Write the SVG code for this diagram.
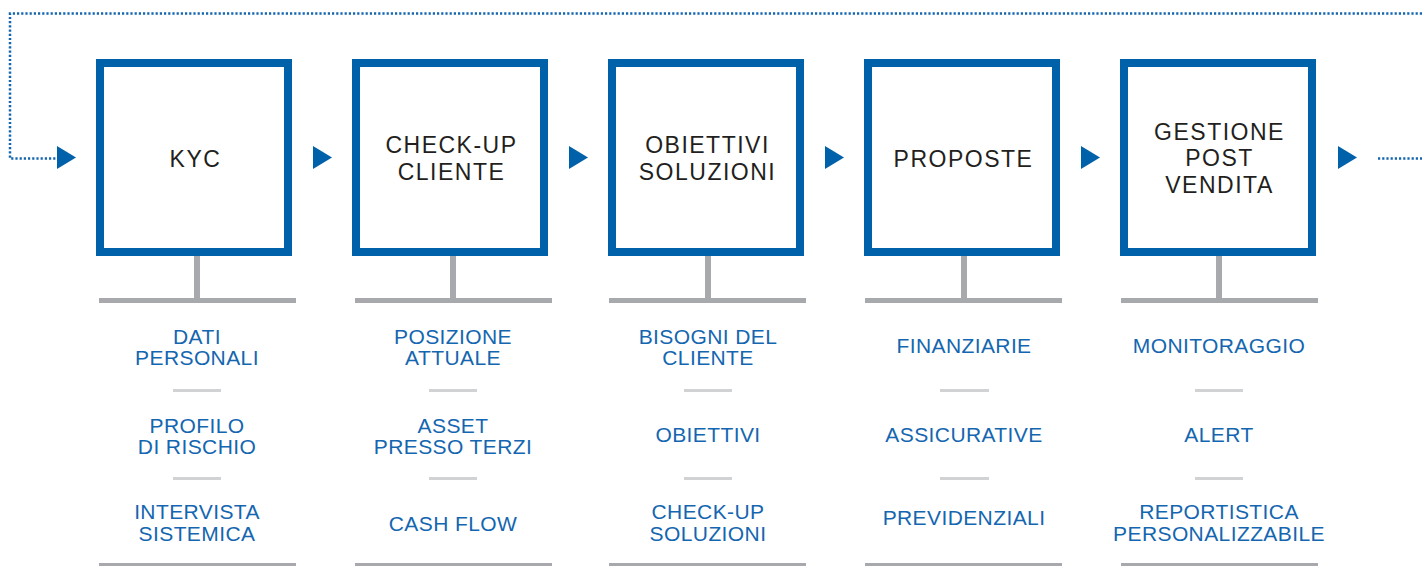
<svg xmlns="http://www.w3.org/2000/svg" width="1422" height="566" viewBox="0 0 1422 566">
<style>
.box{fill:#fff;stroke:#0061ab;stroke-width:8}
.stand{fill:#a7a9ac}
.sep{fill:#d1d2d4}
.title{font-family:"Liberation Sans",Arial,sans-serif;font-size:23px;fill:#231f20;text-anchor:middle;letter-spacing:1.5px}
.item{font-family:"Liberation Sans",Arial,sans-serif;font-size:21px;fill:#1466b0;text-anchor:middle;letter-spacing:0.4px}
.dot{fill:none;stroke:#1466b0;stroke-width:2.5;stroke-dasharray:2.2 2}
.arr{fill:#0061ab}
</style>
<g id="connectors">
<path class="dot" d="M1422,13.5 H10 V158.5 H56"/>
<path class="dot" d="M1378,158.5 H1422"/>
<path class="arr" d="M57,146 L76,157.5 L57,169 Z"/>
<path class="arr" d="M313,146 L332,157.5 L313,169 Z"/>
<path class="arr" d="M569,146 L588,157.5 L569,169 Z"/>
<path class="arr" d="M825,146 L844,157.5 L825,169 Z"/>
<path class="arr" d="M1081,146 L1100,157.5 L1081,169 Z"/>
<path class="arr" d="M1338,146 L1357,157.5 L1338,169 Z"/>
</g>
<g id="node-kyc">
<rect class="box" x="100" y="63" width="188" height="189"/>
<rect class="stand" x="194" y="256" width="6" height="43"/>
<rect class="stand" x="99" y="298" width="197" height="5"/>
<text class="title" x="195.5" y="166.5">KYC</text>
<text class="item" x="197" y="344">DATI</text>
<text class="item" x="197" y="365">PERSONALI</text>
<rect class="sep" x="173" y="389" width="48" height="3"/>
<text class="item" x="197" y="433">PROFILO</text>
<text class="item" x="197" y="454">DI RISCHIO</text>
<rect class="sep" x="173" y="477" width="48" height="3"/>
<text class="item" x="197" y="519">INTERVISTA</text>
<text class="item" x="197" y="541">SISTEMICA</text>
<rect class="stand" x="99" y="563" width="197" height="4"/>
</g>
<g id="node-checkup">
<rect class="box" x="356" y="63" width="188" height="189"/>
<rect class="stand" x="450" y="256" width="6" height="43"/>
<rect class="stand" x="355" y="298" width="197" height="5"/>
<text class="title" x="451.5" y="153">CHECK-UP</text>
<text class="title" x="451.5" y="179.5">CLIENTE</text>
<text class="item" x="453" y="344">POSIZIONE</text>
<text class="item" x="453" y="365">ATTUALE</text>
<rect class="sep" x="429" y="389" width="48" height="3"/>
<text class="item" x="453" y="433">ASSET</text>
<text class="item" x="453" y="454">PRESSO TERZI</text>
<rect class="sep" x="429" y="477" width="48" height="3"/>
<text class="item" x="453" y="530.5">CASH FLOW</text>
<rect class="stand" x="355" y="563" width="197" height="4"/>
</g>
<g id="node-obiettivi">
<rect class="box" x="612" y="63" width="188" height="189"/>
<rect class="stand" x="705" y="256" width="6" height="43"/>
<rect class="stand" x="609" y="298" width="197" height="5"/>
<text class="title" x="707.5" y="153">OBIETTIVI</text>
<text class="title" x="707.5" y="179.5">SOLUZIONI</text>
<text class="item" x="708" y="344">BISOGNI DEL</text>
<text class="item" x="708" y="365">CLIENTE</text>
<rect class="sep" x="684" y="389" width="48" height="3"/>
<text class="item" x="708" y="441.5">OBIETTIVI</text>
<rect class="sep" x="684" y="477" width="48" height="3"/>
<text class="item" x="708" y="519">CHECK-UP</text>
<text class="item" x="708" y="541">SOLUZIONI</text>
<rect class="stand" x="609" y="563" width="197" height="4"/>
</g>
<g id="node-proposte">
<rect class="box" x="868" y="63" width="188" height="189"/>
<rect class="stand" x="961" y="256" width="6" height="43"/>
<rect class="stand" x="865" y="298" width="197" height="5"/>
<text class="title" x="963.5" y="166.5">PROPOSTE</text>
<text class="item" x="964" y="353">FINANZIARIE</text>
<rect class="sep" x="940" y="389" width="49" height="3"/>
<text class="item" x="964" y="441.5">ASSICURATIVE</text>
<rect class="sep" x="940" y="477" width="49" height="3"/>
<text class="item" x="964" y="525">PREVIDENZIALI</text>
<rect class="stand" x="865" y="563" width="197" height="4"/>
</g>
<g id="node-gestione">
<rect class="box" x="1124" y="63" width="188" height="189"/>
<rect class="stand" x="1216" y="256" width="6" height="43"/>
<rect class="stand" x="1121" y="298" width="197" height="5"/>
<text class="title" x="1219.5" y="139.5">GESTIONE</text>
<text class="title" x="1219.5" y="166">POST</text>
<text class="title" x="1219.5" y="192.5">VENDITA</text>
<text class="item" x="1219" y="353">MONITORAGGIO</text>
<rect class="sep" x="1195" y="389" width="48" height="3"/>
<text class="item" x="1219" y="441.5">ALERT</text>
<rect class="sep" x="1195" y="477" width="48" height="3"/>
<text class="item" x="1219" y="518.5">REPORTISTICA</text>
<text class="item" x="1219" y="540.5">PERSONALIZZABILE</text>
<rect class="stand" x="1121" y="563" width="197" height="4"/>
</g>
</svg>
